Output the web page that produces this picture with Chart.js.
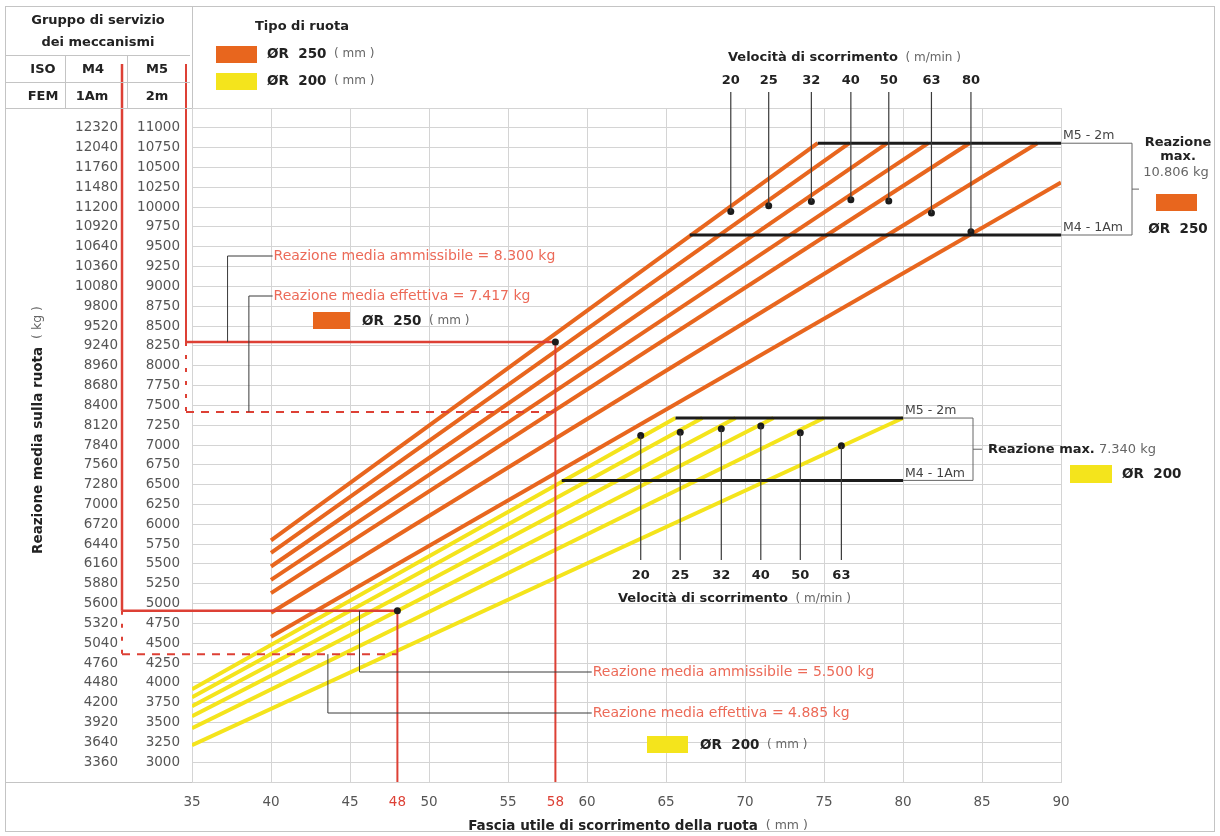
<!DOCTYPE html>
<html>
<head>
<meta charset="utf-8">
<title>Reazione media sulla ruota</title>
<script src="https://cdn.jsdelivr.net/npm/chart.js@4.4.1/dist/chart.umd.min.js"></script>
<style>
  body { margin: 0; background: #fff; }
  canvas { display: block; }
</style>
</head>
<body>
<canvas id="graficoRuote" width="1220" height="836"></canvas>
<script>
// etichette delle due scale (M4 = M5 x 1,12)
var m4Labels = [12320, 12040, 11760, 11480, 11200, 10920, 10640, 10360, 10080, 9800, 9520, 9240, 8960, 8680, 8400, 8120, 7840, 7560, 7280, 7000, 6720, 6440, 6160, 5880, 5600, 5320, 5040, 4760, 4480, 4200, 3920, 3640, 3360]
var m5Labels = [11000, 10750, 10500, 10250, 10000, 9750, 9500, 9250, 9000, 8750, 8500, 8250, 8000, 7750, 7500, 7250, 7000, 6750, 6500, 6250, 6000, 5750, 5500, 5250, 5000, 4750, 4500, 4250, 4000, 3750, 3500, 3250, 3000]
var xLabels = [35, 40, 45, 48, 50, 55, 58, 60, 65, 70, 75, 80, 85, 90]
var xRossi = [48, 58]

// ruota ØR 250: da 40 mm fino alla reazione max (scala M5)
var velocita250 = ['20', '25', '32', '40', '50', '63', '80']
var inizio250 = [5797, 5640, 5468, 5300, 5132, 4884, 4581]
var fineX250 = [74.6, 76.6, 79.0, 81.6, 84.2, 88.5, 90]
var fineY250 = [10806, 10806, 10806, 10806, 10806, 10806, 10310]
var puntiX250 = [69.1, 71.5, 74.2, 76.7, 79.1, 81.8, 84.3]
var puntiY250 = [9946, 10018, 10072, 10093, 10077, 9926, 9690]

// ruota ØR 200: da 35 mm fino alla reazione max
var velocita200 = ['20', '25', '32', '40', '50', '63']
var inizio200 = [3920, 3818, 3704, 3579, 3428, 3214]
var fineX200 = [65.6, 67.3, 69.4, 71.8, 75.0, 80.0]
var fineY200 = [7340, 7340, 7340, 7340, 7340, 7340]
var puntiX200 = [63.4, 65.9, 68.5, 71.0, 73.5, 76.1]
var puntiY200 = [7120, 7160, 7205, 7240, 7155, 6990]

// reazione max (M5-2m sulla scala M5, M4-1Am sulla scala M4)
var reazioneMax250 = 10806
var reazioneMax200 = 7340
var maxM5x250 = [74.6, 90]
var maxM4x250 = [66.5, 90]
var maxM5x200 = [65.6, 80]
var maxM4x200 = [58.4, 80]

// esempi: reazione ammissibile / effettiva
var rif250 = [8300, 7417]
var fascia250 = 58
var rif200 = [5500, 4885]
var fascia200 = 48

var arancio = '#e8661e'
var giallo = '#f4e41c'
var rosso = '#dd4035'
var rossoTesto = '#ec6a58'
var nero = '#1c1c1c'
var grigio = '#555555'
var griglia = '#d4d4d4'
var famiglia = '"DejaVu Sans", Verdana, sans-serif'

function f(size, bold) {
    return (bold ? 'bold ' : '') + size + 'px ' + famiglia
}

function linea(c, x1, y1, x2, y2, col, w, dash) {
    c.beginPath()
    c.setLineDash(dash || [])
    c.strokeStyle = col
    c.lineWidth = w
    c.moveTo(x1, y1)
    c.lineTo(x2, y2)
    c.stroke()
    c.setLineDash([])
}

function scrivi(c, parti, x, y, align) {
    let tot = 0
    parti.forEach(function (p) { c.font = p[1]; tot += c.measureText(p[0]).width })
    let px = align == 'center' ? x - tot / 2 : (align == 'right' ? x - tot : x)
    c.textAlign = 'left'
    c.textBaseline = 'middle'
    parti.forEach(function (p) {
        c.font = p[1]
        c.fillStyle = p[2]
        c.fillText(p[0], px, y)
        px += c.measureText(p[0]).width
    })
}

function pallino(c, x, y) {
    c.beginPath()
    c.fillStyle = nero
    c.arc(x, y, 3.5, 0, Math.PI * 2)
    c.fill()
}

function riquadro(c, x, y, w, h, col) {
    c.fillStyle = col
    c.fillRect(x, y, w, h)
}

var datasets = []
velocita200.forEach(function (v, i) {
    datasets.push({
        label: 'ØR 200 - ' + v,
        data: [{x: 35, y: inizio200[i]}, {x: fineX200[i], y: fineY200[i]}],
        showLine: true, borderColor: giallo, borderWidth: 4, pointRadius: 0, order: 3
    })
})
velocita250.forEach(function (v, i) {
    datasets.push({
        label: 'ØR 250 - ' + v,
        data: [{x: 40, y: inizio250[i]}, {x: fineX250[i], y: fineY250[i]}],
        showLine: true, borderColor: arancio, borderWidth: 4, pointRadius: 0, order: 2
    })
})
datasets.push({label: 'M5 250', data: maxM5x250.map(function (x) { return {x: x, y: reazioneMax250} }),
    showLine: true, borderColor: nero, borderWidth: 3, pointRadius: 0, order: 1})
datasets.push({label: 'M4 250', yAxisID: 'y4', data: maxM4x250.map(function (x) { return {x: x, y: reazioneMax250} }),
    showLine: true, borderColor: nero, borderWidth: 3, pointRadius: 0, order: 1})
datasets.push({label: 'M5 200', data: maxM5x200.map(function (x) { return {x: x, y: reazioneMax200} }),
    showLine: true, borderColor: nero, borderWidth: 3, pointRadius: 0, order: 1})
datasets.push({label: 'M4 200', yAxisID: 'y4', data: maxM4x200.map(function (x) { return {x: x, y: reazioneMax200} }),
    showLine: true, borderColor: nero, borderWidth: 3, pointRadius: 0, order: 1})
datasets.push({label: 'punti 250', data: puntiX250.map(function (x, i) { return {x: x, y: puntiY250[i]} }),
    pointRadius: 3.5, pointBackgroundColor: nero, pointBorderWidth: 0, order: 0})
datasets.push({label: 'punti 200', data: puntiX200.map(function (x, i) { return {x: x, y: puntiY200[i]} }),
    pointRadius: 3.5, pointBackgroundColor: nero, pointBorderWidth: 0, order: 0})

var disegno = {
    id: 'disegno',
    afterDatasetsDraw: function (chart) {
        let c = chart.ctx
        let xs = chart.scales.x, ys = chart.scales.y, y4 = chart.scales.y4
        let area = chart.chartArea
        c.save()
        // linee rosse ØR 250 (scala M5)
        let xr5 = ys.right - 6
        let ya = ys.getPixelForValue(rif250[0]), ye = ys.getPixelForValue(rif250[1])
        let xf = xs.getPixelForValue(fascia250)
        linea(c, xr5, 64, xr5, ya, rosso, 2)
        linea(c, xr5, ya, xr5, ye, rosso, 2, [4, 9])
        linea(c, xr5, ya, xf, ya, rosso, 2.5)
        linea(c, xr5, ye, xf, ye, rosso, 2, [8, 7])
        linea(c, xf, ya, xf, area.bottom, rosso, 2)
        // linee rosse ØR 200 (scala M4)
        let xr4 = y4.right - 2
        let ya2 = y4.getPixelForValue(rif200[0]), ye2 = y4.getPixelForValue(rif200[1])
        let xf2 = xs.getPixelForValue(fascia200)
        linea(c, xr4, 64, xr4, ya2, rosso, 2.5)
        linea(c, xr4, ya2, xr4, ye2, rosso, 2, [4, 9])
        linea(c, xr4, ya2, xf2, ya2, rosso, 2.5)
        linea(c, xr4, ye2, xf2, ye2, rosso, 2, [8, 7])
        linea(c, xf2, ya2, xf2, area.bottom, rosso, 2)
        pallino(c, xf, ya)
        pallino(c, xf2, ya2)

        // richiami delle reazioni
        let scuro = '#3a3a3a'
        let lx1 = xs.getPixelForValue(37.25), lx2 = xs.getPixelForValue(38.6)
        let tx = xs.getPixelForValue(40.1)
        linea(c, lx1, ya, lx1, 256, scuro, 1)
        linea(c, lx1, 256, tx, 256, scuro, 1)
        linea(c, lx2, ye, lx2, 296, scuro, 1)
        linea(c, lx2, 296, tx, 296, scuro, 1)
        scrivi(c, [['Reazione media ammissibile = 8.300 kg', f(14), rossoTesto]], tx + 1, 256)
        scrivi(c, [['Reazione media effettiva = 7.417 kg', f(14), rossoTesto]], tx + 1, 296)
        let lx3 = xs.getPixelForValue(45.6), lx4 = xs.getPixelForValue(43.6)
        let tx2 = xs.getPixelForValue(60.3)
        linea(c, lx3, ya2, lx3, 672, scuro, 1)
        linea(c, lx3, 672, tx2, 672, scuro, 1)
        linea(c, lx4, ye2, lx4, 713, scuro, 1)
        linea(c, lx4, 713, tx2, 713, scuro, 1)
        scrivi(c, [['Reazione media ammissibile = 5.500 kg', f(14), rossoTesto]], tx2 + 1, 672)
        scrivi(c, [['Reazione media effettiva = 4.885 kg', f(14), rossoTesto]], tx2 + 1, 713)

        // velocità ØR 250 (in alto)
        puntiX250.forEach(function (x, i) {
            let px = xs.getPixelForValue(x)
            linea(c, px, 92, px, ys.getPixelForValue(puntiY250[i]), scuro, 1.2)
            scrivi(c, [[velocita250[i], f(13, true), '#222']], px, 81, 'center')
        })
        scrivi(c, [['Velocità di scorrimento', f(13, true), '#222'], ['  ( m/min )', f(12), '#666']], 728, 58)
        // velocità ØR 200 (in basso)
        puntiX200.forEach(function (x, i) {
            let px = xs.getPixelForValue(x)
            linea(c, px, ys.getPixelForValue(puntiY200[i]), px, 560, scuro, 1.2)
            scrivi(c, [[velocita200[i], f(13, true), '#222']], px, 576, 'center')
        })
        scrivi(c, [['Velocità di scorrimento', f(13, true), '#222'], ['  ( m/min )', f(12), '#666']], 618, 599)

        // parentesi reazione max ØR 250
        let yM5 = ys.getPixelForValue(reazioneMax250), yM4 = y4.getPixelForValue(reazioneMax250)
        let xb = 1132
        linea(c, area.right, yM5, xb, yM5, '#666', 1)
        linea(c, area.right, yM4, xb, yM4, '#666', 1)
        linea(c, xb, yM5, xb, yM4, '#666', 1)
        linea(c, xb, (yM5 + yM4) / 2, xb + 7, (yM5 + yM4) / 2, '#666', 1)
        scrivi(c, [['M5 - 2m', f(12.5), '#444']], area.right + 2, yM5 - 7)
        scrivi(c, [['M4 - 1Am', f(12.5), '#444']], area.right + 2, yM4 - 7)
        scrivi(c, [['Reazione', f(13, true), '#222']], 1178, 143, 'center')
        scrivi(c, [['max.', f(13, true), '#222']], 1178, 157, 'center')
        scrivi(c, [['10.806 kg', f(13), '#666']], 1176, 173, 'center')
        riquadro(c, 1156, 194, 41, 17, arancio)
        scrivi(c, [['ØR  250', f(13.5, true), '#222']], 1178, 229, 'center')

        // parentesi reazione max ØR 200
        let x80 = xs.getPixelForValue(maxM5x200[1])
        let yN5 = ys.getPixelForValue(reazioneMax200), yN4 = y4.getPixelForValue(reazioneMax200)
        let xb2 = 973
        linea(c, x80, yN5, xb2, yN5, '#666', 1)
        linea(c, x80, yN4, xb2, yN4, '#666', 1)
        linea(c, xb2, yN5, xb2, yN4, '#666', 1)
        linea(c, xb2, (yN5 + yN4) / 2, xb2 + 9, (yN5 + yN4) / 2, '#666', 1)
        scrivi(c, [['M5 - 2m', f(12.5), '#444']], x80 + 2, yN5 - 7)
        scrivi(c, [['M4 - 1Am', f(12.5), '#444']], x80 + 2, yN4 - 7)
        scrivi(c, [['Reazione max.', f(13, true), '#222'], [' 7.340 kg', f(13), '#666']], 988, (yN5 + yN4) / 2)
        riquadro(c, 1070, 465, 42, 18, giallo)
        scrivi(c, [['ØR  200', f(13.5, true), '#222']], 1122, 474)

        // legende interne
        riquadro(c, 313, 312, 37, 17, arancio)
        scrivi(c, [['ØR  250', f(13.5, true), '#222'], ['  ( mm )', f(12), '#666']], 362, 321)
        riquadro(c, 647, 736, 41, 17, giallo)
        scrivi(c, [['ØR  200', f(13.5, true), '#222'], ['  ( mm )', f(12), '#666']], 700, 745)
        c.restore()
    },
    afterDraw: function (chart) {
        let c = chart.ctx
        let area = chart.chartArea
        c.save()
        let bordo = '#c4c4c4'
        c.strokeStyle = bordo
        c.lineWidth = 1
        c.strokeRect(5.5, 6.5, 1209, 825)
        linea(c, 5, 55.5, 190, 55.5, bordo, 1)
        linea(c, 5, 82.5, 190, 82.5, bordo, 1)
        linea(c, 5, area.top + 0.5, area.left, area.top + 0.5, bordo, 1)
        linea(c, 65.5, 55, 65.5, area.top, bordo, 1)
        linea(c, 127.5, 55, 127.5, area.top, bordo, 1)
        linea(c, area.left + 0.5, 6, area.left + 0.5, area.top, bordo, 1)
        linea(c, 5, area.bottom + 0.5, area.left, area.bottom + 0.5, bordo, 1)

        // intestazione
        scrivi(c, [['Gruppo di servizio', f(13, true), '#222']], 98, 21, 'center')
        scrivi(c, [['dei meccanismi', f(13, true), '#222']], 98, 43, 'center')
        scrivi(c, [['ISO', f(13, true), '#222']], 43, 70, 'center')
        scrivi(c, [['M4', f(13, true), '#222']], 93, 70, 'center')
        scrivi(c, [['M5', f(13, true), '#222']], 157, 70, 'center')
        scrivi(c, [['FEM', f(13, true), '#222']], 43, 97, 'center')
        scrivi(c, [['1Am', f(13, true), '#222']], 92, 97, 'center')
        scrivi(c, [['2m', f(13, true), '#222']], 157, 97, 'center')

        scrivi(c, [['Tipo di ruota', f(13, true), '#222']], 255, 27)
        riquadro(c, 216, 46, 41, 17, arancio)
        riquadro(c, 216, 73, 41, 17, giallo)
        scrivi(c, [['ØR  250', f(13.5, true), '#222'], ['  ( mm )', f(12), '#666']], 267, 54)
        scrivi(c, [['ØR  200', f(13.5, true), '#222'], ['  ( mm )', f(12), '#666']], 267, 81)

        // titoli degli assi
        scrivi(c, [['Fascia utile di scorrimento della ruota', f(13.5, true), '#222'], ['  ( mm )', f(12.5), '#666']], 638, 826, 'center')
        c.translate(38, 430)
        c.rotate(-Math.PI / 2)
        scrivi(c, [['Reazione media sulla ruota', f(13.5, true), '#222'], ['  ( kg )', f(12.5), '#666']], 0, 0, 'center')
        c.restore()
    }
}

var ctx = document.getElementById('graficoRuote')
var graficoRuote = new Chart(ctx, {
    type: 'scatter',
    data: { datasets: datasets },
    options: {
        responsive: false,
        devicePixelRatio: 1,
        animation: false,
        layout: { padding: { left: 50, right: 159, top: 108, bottom: 0 } },
        plugins: { legend: { display: false }, tooltip: { enabled: false } },
        scales: {
            x: {
                type: 'linear', min: 35, max: 90,
                afterBuildTicks: function (s) { s.ticks = xLabels.map(function (v) { return {value: v} }) },
                afterFit: function (s) { s.height = 54 },
                ticks: {
                    autoSkip: false, maxRotation: 0, padding: 12,
                    font: { family: famiglia, size: 13.5 },
                    color: function (c) { return xRossi.includes(c.tick.value) ? rosso : grigio }
                },
                grid: {
                    drawTicks: false,
                    color: function (c) { return (c.tick && xRossi.includes(c.tick.value)) ? 'rgba(0,0,0,0)' : griglia }
                },
                border: { color: griglia }
            },
            y: {
                type: 'linear', position: 'left', weight: 0, min: 2750, max: 11250,
                afterBuildTicks: function (s) {
                    s.ticks = [2750].concat(m5Labels.slice().reverse(), [11250]).map(function (v) { return {value: v} })
                },
                afterFit: function (s) { s.width = 68 },
                ticks: {
                    autoSkip: false, padding: 12,
                    font: { family: famiglia, size: 13.5 }, color: grigio,
                    callback: function (v) { return m5Labels.includes(v) ? String(v) : '' }
                },
                grid: { drawTicks: false, color: griglia },
                border: { color: griglia }
            },
            y4: {
                type: 'linear', position: 'left', weight: 1, min: 3080, max: 12600,
                afterBuildTicks: function (s) { s.ticks = m4Labels.map(function (v) { return {value: v} }) },
                afterFit: function (s) { s.width = 74 },
                ticks: {
                    autoSkip: false, padding: 6,
                    font: { family: famiglia, size: 13.5 }, color: grigio,
                    callback: function (v) { return String(v) }
                },
                grid: { display: false, drawTicks: false },
                border: { display: false }
            }
        }
    },
    plugins: [disegno]
})
</script>
</body>
</html>
